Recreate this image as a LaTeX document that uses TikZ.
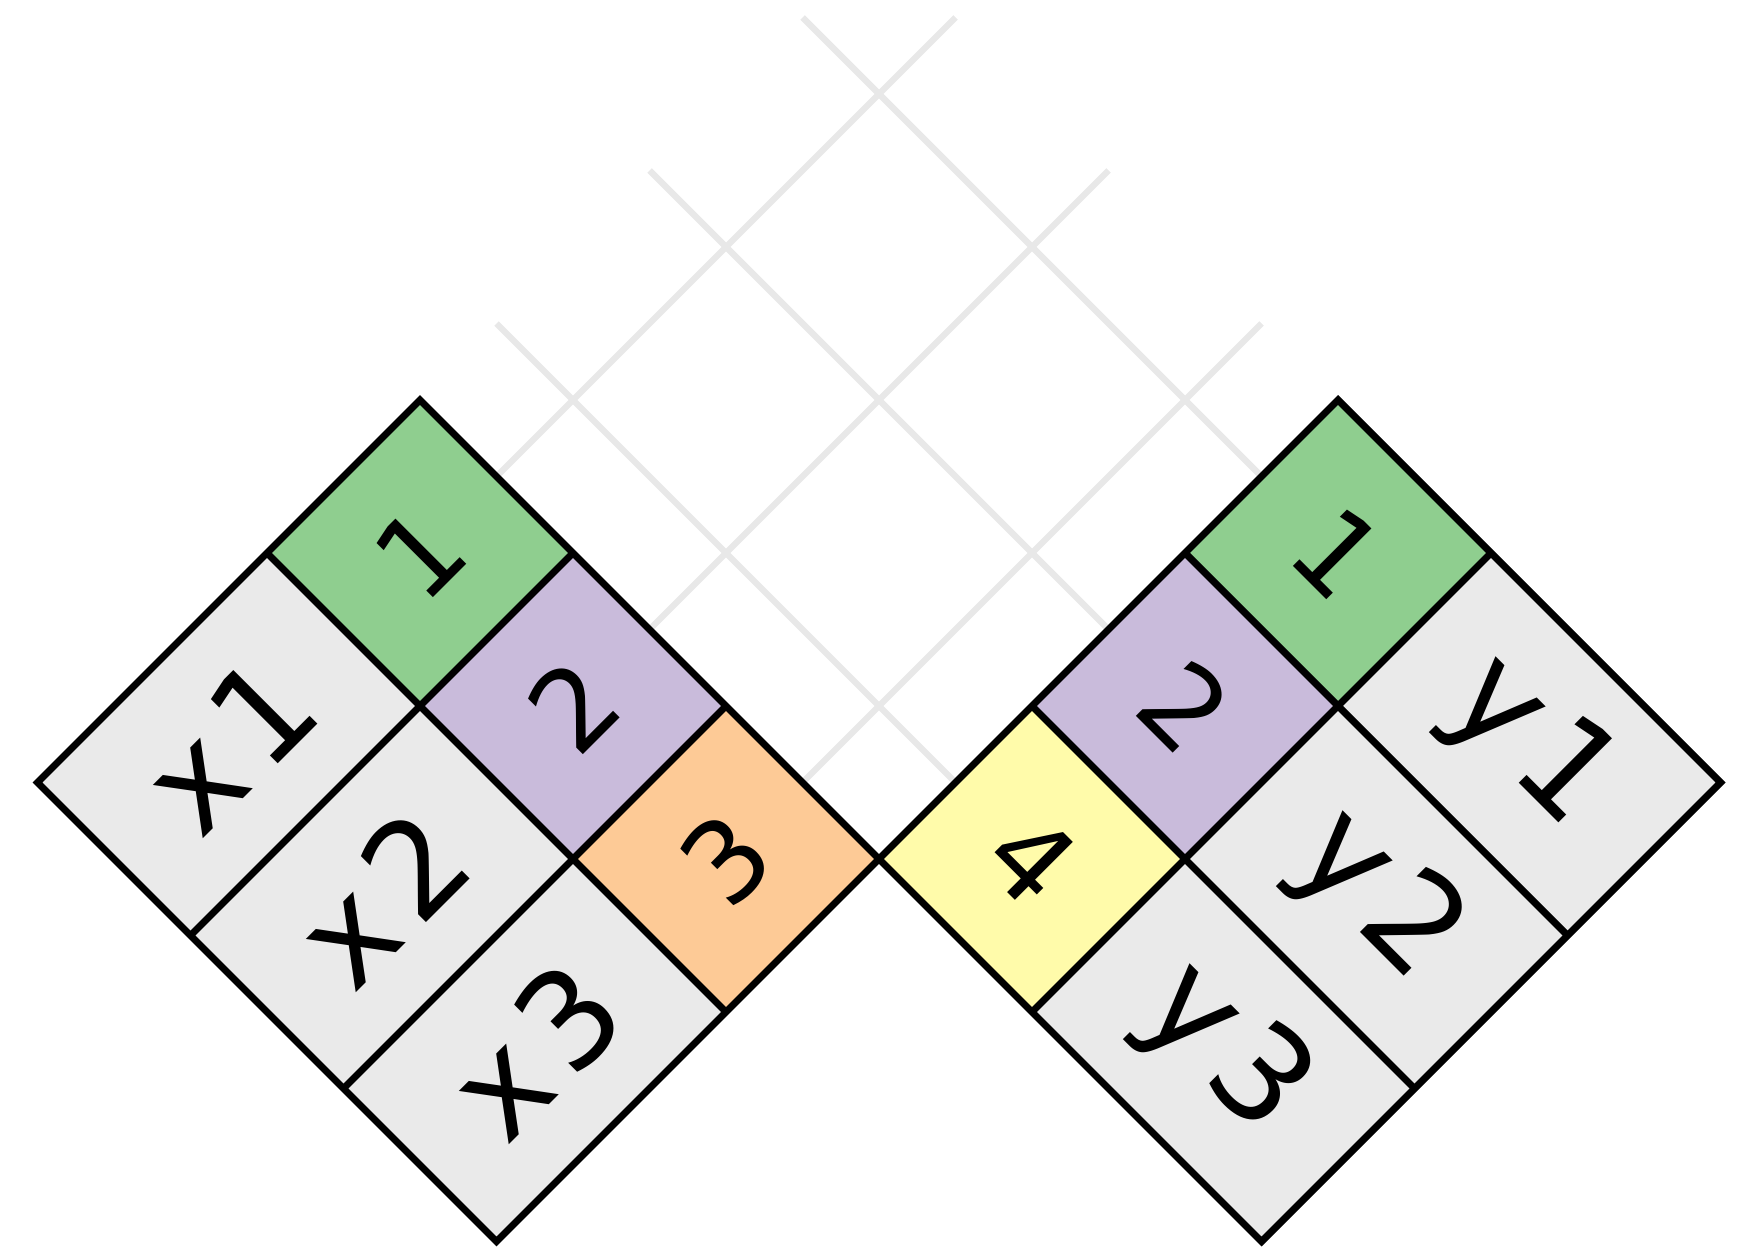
\documentclass[tikz,border=0pt]{standalone}
\usepackage{fontspec}
\setmainfont{DejaVu Sans}
\usepackage{tikz}
\definecolor{CellGreen}{HTML}{8FCE8F}
\definecolor{CellPurple}{HTML}{C9BBDB}
\definecolor{CellOrange}{HTML}{FDCA96}
\definecolor{CellYellow}{HTML}{FFFBAA}
\definecolor{CellGray}{HTML}{EAEAEA}
\definecolor{GridGray}{HTML}{E8E8E8}

\begin{document}
\begin{tikzpicture}[x=1cm,y=1cm,
  edge/.style={black,line width=2pt},
  gridline/.style={GridGray,line width=1.8pt},
  numtxt/.style={font=\fontsize{32}{38}\selectfont,inner sep=0pt},
  lbltxt/.style={font=\fontsize{38}{46}\selectfont,inner sep=0pt}]
\path[use as bounding box] (0,0) rectangle (17.62,12.47);
% left block: u runs down-right, v runs down-left
\begin{scope}[shift={(4.20cm,8.47cm)},x={(1.53cm,-1.53cm)},y={(-1.53cm,-1.53cm)}]
\draw[gridline] (0.5,0) -- (0.5,-3);
\draw[gridline] (1.5,0) -- (1.5,-3);
\draw[gridline] (2.5,0) -- (2.5,-3);
\fill[CellGreen] (0,0) -- (1,0) -- (1,1) -- (0,1) -- cycle;
\fill[CellPurple] (1,0) -- (2,0) -- (2,1) -- (1,1) -- cycle;
\fill[CellOrange] (2,0) -- (3,0) -- (3,1) -- (2,1) -- cycle;
\fill[CellGray] (0,1) -- (3,1) -- (3,2.5) -- (0,2.5) -- cycle;
\draw[edge] (0,0) -- (3,0) -- (3,2.5) -- (0,2.5) -- cycle;
\draw[edge] (0,1) -- (3,1);
\draw[edge] (1,0) -- (1,2.5);
\draw[edge] (2,0) -- (2,2.5);
\node[numtxt,rotate=45] (lone) at (0.5,0.5) {1};
\node[numtxt,rotate=45] (ltwo) at (1.5,0.5) {2};
\node[numtxt,rotate=45] (lthree) at (2.5,0.5) {3};
\node[lbltxt,rotate=45] (xone) at (0.5,1.75) {x\kern4pt 1};
\node[lbltxt,rotate=45] (xtwo) at (1.5,1.75) {x\kern4pt 2};
\node[lbltxt,rotate=45] (xthree) at (2.5,1.75) {x\kern4pt 3};
\end{scope}
% right block: mirror of the left one
\begin{scope}[shift={(13.38cm,8.47cm)},x={(-1.53cm,-1.53cm)},y={(1.53cm,-1.53cm)}]
\draw[gridline] (0.5,0) -- (0.5,-3);
\draw[gridline] (1.5,0) -- (1.5,-3);
\draw[gridline] (2.5,0) -- (2.5,-3);
\fill[CellGreen] (0,0) -- (1,0) -- (1,1) -- (0,1) -- cycle;
\fill[CellPurple] (1,0) -- (2,0) -- (2,1) -- (1,1) -- cycle;
\fill[CellYellow] (2,0) -- (3,0) -- (3,1) -- (2,1) -- cycle;
\fill[CellGray] (0,1) -- (3,1) -- (3,2.5) -- (0,2.5) -- cycle;
\draw[edge] (0,0) -- (3,0) -- (3,2.5) -- (0,2.5) -- cycle;
\draw[edge] (0,1) -- (3,1);
\draw[edge] (1,0) -- (1,2.5);
\draw[edge] (2,0) -- (2,2.5);
\node[numtxt,rotate=-45] (rone) at (0.5,0.5) {1};
\node[numtxt,rotate=-45] (rtwo) at (1.5,0.5) {2};
\node[numtxt,rotate=-45] (rfour) at (2.5,0.5) {4};
\node[lbltxt,rotate=-45] (yone) at (0.5,1.75) {y\kern4pt 1};
\node[lbltxt,rotate=-45] (ytwo) at (1.5,1.75) {y\kern4pt 2};
\node[lbltxt,rotate=-45] (ythree) at (2.5,1.75) {y\kern4pt 3};
\end{scope}
\end{tikzpicture}
\end{document}
